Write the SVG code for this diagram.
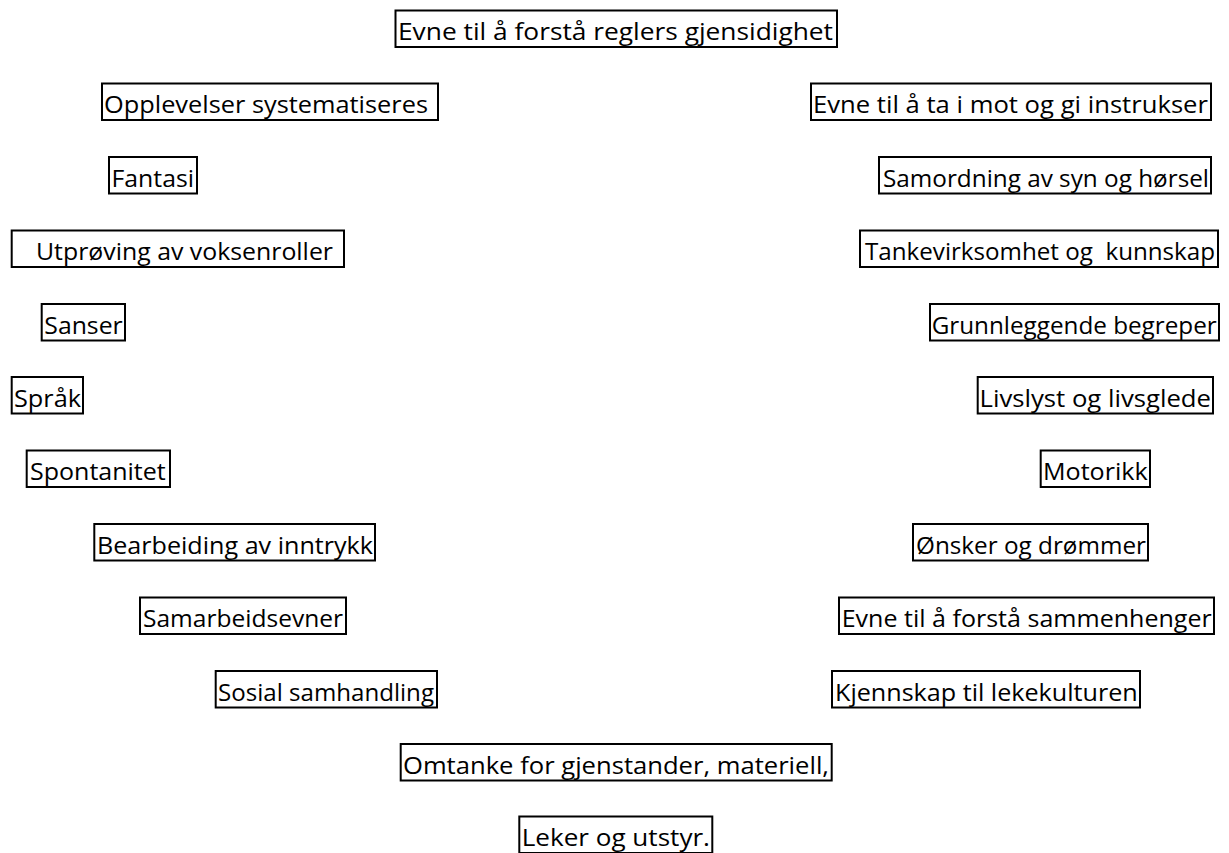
<svg xmlns="http://www.w3.org/2000/svg" width="1229" height="853" viewBox="0 0 1229 853">
<style>
.box{fill:#fff;stroke:#000;stroke-width:2}
.t{font-family:"Open Sans","DejaVu Sans",sans-serif;font-size:23px;fill:#000}
</style>
<rect width="1229" height="853" fill="#fff"/>
<g id="n-regler"><rect class="box" x="395.5" y="10.5" width="441.5" height="36.5"/><text class="t" x="398" y="40" textLength="435" lengthAdjust="spacingAndGlyphs">Evne til å forstå reglers gjensidighet</text></g>
<g id="n-opplevelser"><rect class="box" x="102" y="83.5" width="336" height="36.5"/><text class="t" x="104" y="113" textLength="324" lengthAdjust="spacingAndGlyphs">Opplevelser systematiseres</text></g>
<g id="n-instrukser"><rect class="box" x="811" y="83.5" width="400" height="36.5"/><text class="t" x="813" y="113" textLength="395" lengthAdjust="spacingAndGlyphs">Evne til å ta i mot og gi instrukser</text></g>
<g id="n-fantasi"><rect class="box" x="109" y="157" width="88" height="36.5"/><text class="t" x="111.5" y="186.5" textLength="82.5" lengthAdjust="spacingAndGlyphs">Fantasi</text></g>
<g id="n-samordning"><rect class="box" x="879" y="157" width="332" height="36.5"/><text class="t" x="883" y="186.5" textLength="326" lengthAdjust="spacingAndGlyphs">Samordning av syn og hørsel</text></g>
<g id="n-utproving"><rect class="box" x="11.7" y="230.5" width="332.3" height="36.5"/><text class="t" x="36" y="260" textLength="297" lengthAdjust="spacingAndGlyphs">Utprøving av voksenroller</text></g>
<g id="n-tankevirksomhet"><rect class="box" x="860" y="230.5" width="358" height="36.5"/><text class="t" x="865" y="260" textLength="350" lengthAdjust="spacingAndGlyphs" xml:space="preserve">Tankevirksomhet og  kunnskap</text></g>
<g id="n-sanser"><rect class="box" x="41.7" y="304" width="83.3" height="36.5"/><text class="t" x="44.3" y="333.5" textLength="78.4" lengthAdjust="spacingAndGlyphs">Sanser</text></g>
<g id="n-begreper"><rect class="box" x="930" y="304" width="289" height="36.5"/><text class="t" x="931.7" y="333.5" textLength="285" lengthAdjust="spacingAndGlyphs">Grunnleggende begreper</text></g>
<g id="n-sprak"><rect class="box" x="11.7" y="377" width="71.3" height="36.5"/><text class="t" x="14" y="406.5" textLength="67" lengthAdjust="spacingAndGlyphs">Språk</text></g>
<g id="n-livslyst"><rect class="box" x="977.7" y="377" width="235.3" height="36.5"/><text class="t" x="979.5" y="406.5" textLength="231.5" lengthAdjust="spacingAndGlyphs">Livslyst og livsglede</text></g>
<g id="n-spontanitet"><rect class="box" x="26.7" y="450.5" width="143.3" height="36.5"/><text class="t" x="30" y="480" textLength="135.7" lengthAdjust="spacingAndGlyphs">Spontanitet</text></g>
<g id="n-motorikk"><rect class="box" x="1040.7" y="450.5" width="109.3" height="36.5"/><text class="t" x="1043" y="480" textLength="104.7" lengthAdjust="spacingAndGlyphs">Motorikk</text></g>
<g id="n-bearbeiding"><rect class="box" x="94.3" y="524" width="280.7" height="36.5"/><text class="t" x="97" y="553.5" textLength="276" lengthAdjust="spacingAndGlyphs">Bearbeiding av inntrykk</text></g>
<g id="n-onsker"><rect class="box" x="913" y="524" width="235" height="36.5"/><text class="t" x="916" y="553.5" textLength="230" lengthAdjust="spacingAndGlyphs">Ønsker og drømmer</text></g>
<g id="n-samarbeid"><rect class="box" x="140" y="597.5" width="206" height="36.5"/><text class="t" x="143" y="627" textLength="200" lengthAdjust="spacingAndGlyphs">Samarbeidsevner</text></g>
<g id="n-sammenhenger"><rect class="box" x="839" y="597.5" width="375" height="36.5"/><text class="t" x="841.7" y="627" textLength="370" lengthAdjust="spacingAndGlyphs">Evne til å forstå sammenhenger</text></g>
<g id="n-sosial"><rect class="box" x="215.7" y="671" width="221.3" height="36.5"/><text class="t" x="218" y="700.5" textLength="216" lengthAdjust="spacingAndGlyphs">Sosial samhandling</text></g>
<g id="n-lekekultur"><rect class="box" x="832" y="671" width="308" height="36.5"/><text class="t" x="835" y="700.5" textLength="302.7" lengthAdjust="spacingAndGlyphs">Kjennskap til lekekulturen</text></g>
<g id="n-omtanke"><rect class="box" x="400.7" y="744" width="431" height="36.5"/><text class="t" x="403" y="773.5" textLength="426" lengthAdjust="spacingAndGlyphs">Omtanke for gjenstander, materiell,</text></g>
<g id="n-leker"><rect class="box" x="519.3" y="816.5" width="193" height="36.5"/><text class="t" x="521.7" y="846" textLength="188.3" lengthAdjust="spacingAndGlyphs">Leker og utstyr.</text></g>
</svg>
